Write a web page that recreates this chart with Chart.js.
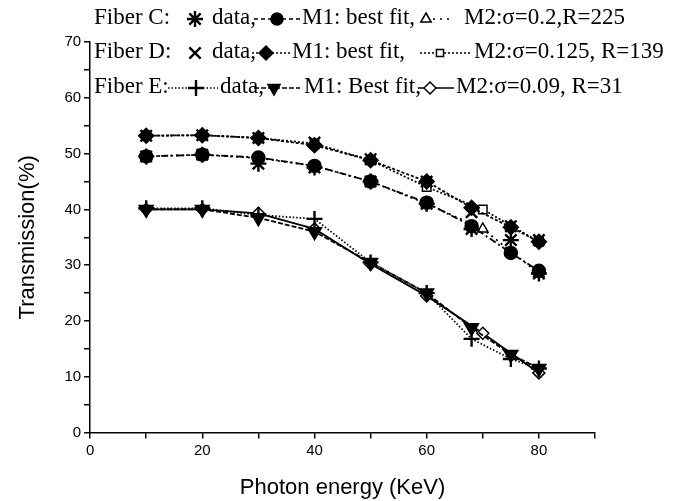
<!DOCTYPE html>
<html>
<head>
<meta charset="utf-8">
<script src="https://cdn.jsdelivr.net/npm/chart.js@4.4.0/dist/chart.umd.min.js"></script>
<style>
  html, body { margin: 0; padding: 0; background: #fff; }
  #wrap { width: 695px; height: 501px; }
</style>
</head>
<body>
<div id="wrap"><canvas id="chart"></canvas></div>
<script>
// measured points (KeV) and the model points
const dataEnergy = [10, 20, 30, 40, 50, 60, 68, 75, 80];
const fitEnergy = [10, 20, 30, 40, 50, 60, 70, 80];

const fiberCData = [49.5, 49.8, 48.2, 47.5, 45.0, 41.0, 36.5, 34.5, 28.5];
const fiberCM1 = [49.5, 49.8, 49.3, 47.8, 45.0, 41.2, 37.0, 32.2, 29.0];
const fiberCM2 = [49.5, 49.8, 49.2, 47.8, 45.0, 41.0, 36.5, 28.5];

const fiberDData = [53.2, 53.3, 52.8, 52.0, 49.0, 45.0, 39.5, 37.0, 34.5];
const fiberDM1 = [53.2, 53.3, 52.8, 51.5, 48.8, 45.0, 40.3, 36.8, 34.2];
const fiberDM2 = [53.2, 53.3, 52.8, 51.8, 48.8, 44.0, 40.0, 34.2];

const fiberEData = [40.2, 40.2, 39.0, 38.3, 30.5, 25.0, 16.8, 13.2, 11.5];
const fiberEM1 = [40.0, 40.0, 38.5, 36.0, 30.5, 25.0, 18.8, 14.0, 11.5];
const fiberEM2 = [40.0, 40.0, 39.3, 36.5, 30.2, 24.5, 17.8, 10.7];

const xTicksShown = [0, 20, 40, 60, 80];
const yTicksShown = [0, 10, 20, 30, 40, 50, 60, 70];

const pts = (xs, ys) => xs.map((x, i) => ({ x: x, y: ys[i] }));

function series(label, xs, ys, style) {
  return Object.assign({
    label: label,
    data: pts(xs, ys),
    borderColor: '#000',
    backgroundColor: '#000',
    pointBorderColor: '#000',
    pointBackgroundColor: '#000',
    borderWidth: 1.8,
    pointRadius: 6,
    pointBorderWidth: 1.5,
    showLine: true,
    tension: 0
  }, style);
}

const datasets = [
  series('Fiber C data', dataEnergy, fiberCData, { showLine: false, pointStyle: 'star', pointRadius: 8, pointBorderWidth: 2.4 }),
  series('Fiber D data', dataEnergy, fiberDData, { showLine: false, pointStyle: 'crossRot', pointRadius: 8, pointBorderWidth: 2.4 }),
  series('Fiber E data', dataEnergy, fiberEData, { pointStyle: 'cross', pointRadius: 8, pointBorderWidth: 2.4, borderDash: [1.5, 2] }),
  series('Fiber C M1', dataEnergy, fiberCM1, { pointStyle: 'circle', pointRadius: 6.5, borderDash: [7, 3, 2, 3] }),
  series('Fiber D M1', dataEnergy, fiberDM1, { pointStyle: 'rectRot', pointRadius: 7.5, borderDash: [3, 2] }),
  series('Fiber E M1', dataEnergy, fiberEM1, { pointStyle: 'triangle', pointRotation: 180, pointRadius: 8, borderDash: [5, 2] }),
  series('Fiber C M2', fitEnergy, fiberCM2, { pointStyle: 'triangle', pointBackgroundColor: '#fff', borderDash: [2, 4] }),
  series('Fiber D M2', fitEnergy, fiberDM2, { pointStyle: 'rect', pointBackgroundColor: '#fff', borderDash: [2, 2] }),
  series('Fiber E M2', fitEnergy, fiberEM2, { pointStyle: 'rectRot', pointBackgroundColor: '#fff', borderDash: [] })
];

// legend rows drawn on the canvas, like the original's inset legend
const legendRows = [
  { y: 17, items: [
    { t: 'Fiber C:', x: 94 },
    { p: 'star', x: 195, r: 8, w: 2.4 },
    { t: 'data,', x: 212 },
    { seg: [254, 300], dash: [4, 3] },
    { p: 'circle', x: 277, r: 6, fill: '#000' },
    { t: 'M1: best fit,', x: 302 },
    { seg: [426, 452], dash: [2, 5] },
    { p: 'triangle', x: 426, r: 6, fill: '#fff' },
    { t: 'M2:σ=0.2,R=225', x: 464 }
  ] },
  { y: 51, items: [
    { t: 'Fiber D:', x: 94 },
    { p: 'crossRot', x: 195, r: 8, w: 2.4 },
    { t: 'data,', x: 212 },
    { seg: [252, 290], dash: [2, 2] },
    { p: 'rectRot', x: 266, r: 7, fill: '#000' },
    { t: 'M1: best fit,', x: 292 },
    { seg: [420, 472], dash: [2, 2] },
    { p: 'rect', x: 440, r: 5, fill: '#fff' },
    { t: 'M2:σ=0.125, R=139', x: 474 }
  ] },
  { y: 86, items: [
    { t: 'Fiber E:', x: 94 },
    { seg: [168, 218], dash: [1.5, 2] },
    { p: 'cross', x: 196, r: 8, w: 2.4 },
    { t: 'data,', x: 220 },
    { seg: [254, 300], dash: [5, 2] },
    { p: 'triangle', x: 274, r: 7, fill: '#000', rot: 180 },
    { t: 'M1: Best fit,', x: 304 },
    { seg: [418, 454], dash: [] },
    { p: 'rectRot', x: 430, r: 6, fill: '#fff' },
    { t: 'M2:σ=0.09, R=31', x: 456 }
  ] }
];

const legendPlugin = {
  id: 'insetLegend',
  afterDraw(chart) {
    const ctx = chart.ctx;
    ctx.save();
    ctx.font = '23px "Liberation Serif", "Times New Roman", serif';
    ctx.textBaseline = 'middle';
    ctx.fillStyle = '#000';
    ctx.strokeStyle = '#000';
    legendRows.forEach(row => {
      row.items.forEach(it => {
        if (it.t) {
          ctx.fillStyle = '#000';
          ctx.fillText(it.t, it.x, row.y + 1);
        } else if (it.seg) {
          ctx.lineWidth = 1.5;
          ctx.setLineDash(it.dash);
          ctx.beginPath();
          ctx.moveTo(it.seg[0], row.y + 2);
          ctx.lineTo(it.seg[1], row.y + 2);
          ctx.stroke();
          ctx.setLineDash([]);
        } else if (it.p) {
          ctx.fillStyle = it.fill || '#000';
          ctx.lineWidth = it.w || 1.5;
          Chart.helpers.drawPoint(ctx, {
            pointStyle: it.p, radius: it.r, rotation: it.rot || 0, borderWidth: it.w || 1.5
          }, it.x, row.y + 2);
        }
      });
    });
    ctx.restore();
  }
};

new Chart(document.getElementById('chart'), {
  type: 'line',
  data: { datasets: datasets },
  plugins: [legendPlugin],
  options: {
    responsive: true,
    maintainAspectRatio: false,
    animation: false,
    layout: { padding: { left: 11, right: 100, top: 42, bottom: 0 } },
    plugins: { legend: { display: false }, tooltip: { enabled: false } },
    scales: {
      x: {
        type: 'linear',
        min: 0,
        max: 90,
        ticks: {
          stepSize: 10,
          color: '#000',
          padding: 3,
          maxRotation: 0,
          font: { family: '"Liberation Sans", Arial, sans-serif', size: 15 },
          callback: v => (xTicksShown.includes(v) ? String(v) : '')
        },
        grid: { drawOnChartArea: false, drawTicks: true, tickLength: 6, color: '#000', lineWidth: 1.5 },
        border: { display: true, color: '#000', width: 1.5 },
        title: {
          display: true,
          text: 'Photon energy (KeV)',
          color: '#000',
          font: { family: '"Liberation Sans", Arial, sans-serif', size: 22 },
          padding: { top: 12, bottom: 0 }
        }
      },
      y: {
        type: 'linear',
        min: 0,
        max: 70,
        ticks: {
          stepSize: 5,
          color: '#000',
          padding: 3,
          font: { family: '"Liberation Sans", Arial, sans-serif', size: 15 },
          callback: v => (yTicksShown.includes(v) ? String(v) : '')
        },
        grid: { drawOnChartArea: false, drawTicks: true, tickLength: 6, color: '#000', lineWidth: 1.5 },
        border: { display: true, color: '#000', width: 1.5 },
        title: {
          display: true,
          text: 'Transmission(%)',
          color: '#000',
          font: { family: '"Liberation Sans", Arial, sans-serif', size: 22 },
          padding: { top: 4, bottom: 20 }
        }
      }
    }
  }
});
</script>
</body>
</html>
